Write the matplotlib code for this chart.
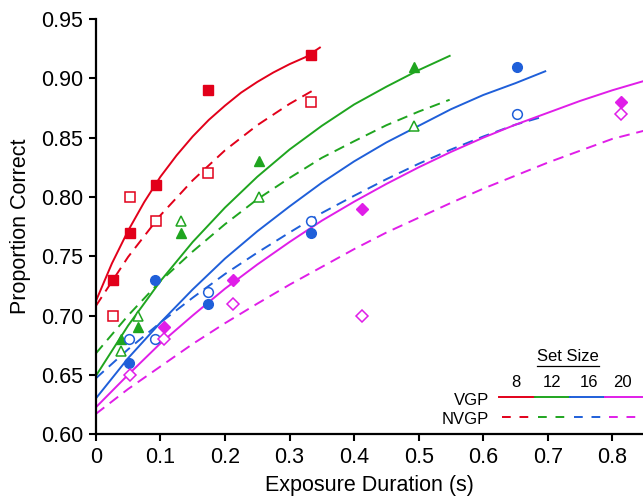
import matplotlib
matplotlib.use('Agg')
import matplotlib.pyplot as plt

plt.rcParams['font.family'] = ['Liberation Sans', 'DejaVu Sans']

# observed data points (exposure duration s, proportion correct)
x8 = [0.026, 0.053, 0.093, 0.173, 0.333]
vgp8 = [0.73, 0.77, 0.81, 0.89, 0.92]
nvgp8 = [0.70, 0.80, 0.78, 0.82, 0.88]

x12 = [0.039, 0.065, 0.132, 0.252, 0.492]
vgp12 = [0.68, 0.69, 0.77, 0.83, 0.91]
nvgp12 = [0.67, 0.70, 0.78, 0.80, 0.86]

x16 = [0.052, 0.092, 0.173, 0.333, 0.653]
vgp16 = [0.66, 0.73, 0.71, 0.77, 0.91]
nvgp16 = [0.68, 0.68, 0.72, 0.78, 0.87]

x20_vgp = [0.105, 0.213, 0.413, 0.813]
vgp20 = [0.69, 0.73, 0.79, 0.88]
x20 = [0.053, 0.105, 0.213, 0.413, 0.813]
nvgp20 = [0.65, 0.68, 0.71, 0.70, 0.87]

# fitted curves
fit8_x = [0, 0.025, 0.05, 0.075, 0.1, 0.125, 0.15, 0.175, 0.2, 0.225, 0.25, 0.275, 0.3,
          0.325, 0.347]
fit8_vgp = [0.712, 0.744, 0.7715, 0.7957, 0.817, 0.835, 0.851, 0.865, 0.877, 0.888, 0.897,
            0.905, 0.912, 0.918, 0.926]
fit8n_x = [0, 0.05, 0.1, 0.15, 0.2, 0.25, 0.3, 0.34]
fit8_nvgp = [0.708, 0.7494, 0.7845, 0.814, 0.8393, 0.8605, 0.8785, 0.891]

fit12_x = [0, 0.05, 0.1, 0.15, 0.2, 0.25, 0.3, 0.35, 0.4, 0.45, 0.5, 0.548]
fit12_vgp = [0.649, 0.6915, 0.729, 0.762, 0.791, 0.817, 0.840, 0.860, 0.878, 0.893, 0.907, 0.919]
fit12_nvgp = [0.668, 0.700, 0.729, 0.754, 0.777, 0.798, 0.816, 0.833, 0.847, 0.8605, 0.872, 0.882]

fit16_x = [0, 0.05, 0.1, 0.15, 0.2, 0.25, 0.3, 0.35, 0.4, 0.45, 0.5, 0.55, 0.6, 0.65, 0.696]
fit16_vgp = [0.630, 0.664, 0.694, 0.722, 0.748, 0.771, 0.792, 0.812, 0.830, 0.846, 0.860,
             0.874, 0.886, 0.896, 0.906]
fit16n_x = [0, 0.05, 0.1, 0.15, 0.2, 0.25, 0.3, 0.35, 0.4, 0.45, 0.5, 0.55, 0.6, 0.65, 0.688]
fit16_nvgp = [0.647, 0.6715, 0.694, 0.715, 0.735, 0.753, 0.770, 0.7865, 0.801, 0.815, 0.828,
              0.840, 0.851, 0.861, 0.867]

fit20_x = [0, 0.05, 0.1, 0.15, 0.2, 0.25, 0.3, 0.35, 0.4, 0.45, 0.5, 0.55, 0.6, 0.65,
           0.7, 0.75, 0.8, 0.85]
fit20_vgp = [0.6225, 0.650, 0.6765, 0.700, 0.7226, 0.743, 0.762, 0.780, 0.796, 0.811, 0.825,
             0.838, 0.850, 0.861, 0.871, 0.881, 0.890, 0.898]
fit20_nvgp = [0.617, 0.638, 0.657, 0.676, 0.6935, 0.710, 0.726, 0.741, 0.756, 0.770, 0.7825,
              0.795, 0.807, 0.818, 0.829, 0.839, 0.849, 0.856]

set_sizes = ['8', '12', '16', '20']
colors = ['#e2001a', '#1fa51f', '#1f5fd9', '#e01ee8']

fig = plt.figure(figsize=(6.43, 5.03), dpi=100)
ax = fig.add_axes([0.149, 0.137, 0.851, 0.825])

lw = 1.4
dash = (5.5, 3.5)
curves = [
    (fit8_x, fit8_vgp, fit8n_x, fit8_nvgp),
    (fit12_x, fit12_vgp, fit12_x, fit12_nvgp),
    (fit16_x, fit16_vgp, fit16n_x, fit16_nvgp),
    (fit20_x, fit20_vgp, fit20_x, fit20_nvgp),
]
for (xs, ys, xn, yn), c in zip(curves, colors):
    ax.plot(xs, ys, color=c, lw=lw, zorder=2)
    ax.plot(xn, yn, color=c, lw=lw, dashes=dash, zorder=2)

pts = [
    (x8, vgp8, x8, nvgp8, 's', 6.5),
    (x12, vgp12, x12, nvgp12, '^', 7),
    (x16, vgp16, x16, nvgp16, 'o', 7),
    (x20_vgp, vgp20, x20, nvgp20, 'D', 6),
]
for (xf, yf, xo, yo, m, s), c in zip(pts, colors):
    ax.plot(xf, yf, ls='none', marker=m, ms=s, color=c, mec=c, zorder=3)
    ax.plot(xo, yo, ls='none', marker=m, ms=s, mfc='white', mec=c, mew=1.1, zorder=3)

ax.set_xlim(0, 0.8474)
ax.set_ylim(0.60, 0.95)
ax.set_xticks([0, 0.1, 0.2, 0.3, 0.4, 0.5, 0.6, 0.7, 0.8])
ax.set_xticklabels(['0', '0.1', '0.2', '0.3', '0.4', '0.5', '0.6', '0.7', '0.8'])
ax.set_yticks([0.60, 0.65, 0.70, 0.75, 0.80, 0.85, 0.90, 0.95])
ax.set_yticklabels(['0.60', '0.65', '0.70', '0.75', '0.80', '0.85', '0.90', '0.95'])
for s in ['top', 'right']:
    ax.spines[s].set_visible(False)
for s in ['left', 'bottom']:
    ax.spines[s].set_linewidth(1.6)
ax.tick_params(direction='out', length=5, width=1.5, labelsize=15.5, pad=4)
ax.set_xlabel('Exposure Duration (s)', fontsize=15.5, labelpad=5)
ax.set_ylabel('Proportion Correct', fontsize=15.5, labelpad=7)

# hand-made legend
tr = ax.transAxes
ax.text(0.863, 0.186, 'Set Size', transform=tr, ha='center', va='center', fontsize=12)
ax.plot([0.806, 0.919], [0.164, 0.164], transform=tr, color='black', lw=0.9, clip_on=False)
num_x = [0.768, 0.834, 0.901, 0.963]
seg = [0.737, 0.803, 0.867, 0.931, 0.998]
for i, (lab, c) in enumerate(zip(set_sizes, colors)):
    ax.text(num_x[i], 0.125, lab, transform=tr, ha='center', va='center', fontsize=12)
    ax.plot([seg[i], seg[i + 1]], [0.089, 0.089], transform=tr, color=c, lw=lw, clip_on=False)
    ax.plot([seg[i] + 0.006, seg[i + 1]], [0.041, 0.041], transform=tr, color=c, lw=lw,
            dashes=(4.5, 4.5), clip_on=False)
ax.text(0.718, 0.082, 'VGP', transform=tr, ha='right', va='center', fontsize=12)
ax.text(0.718, 0.034, 'NVGP', transform=tr, ha='right', va='center', fontsize=12)

fig.savefig('out.png', dpi=100)
